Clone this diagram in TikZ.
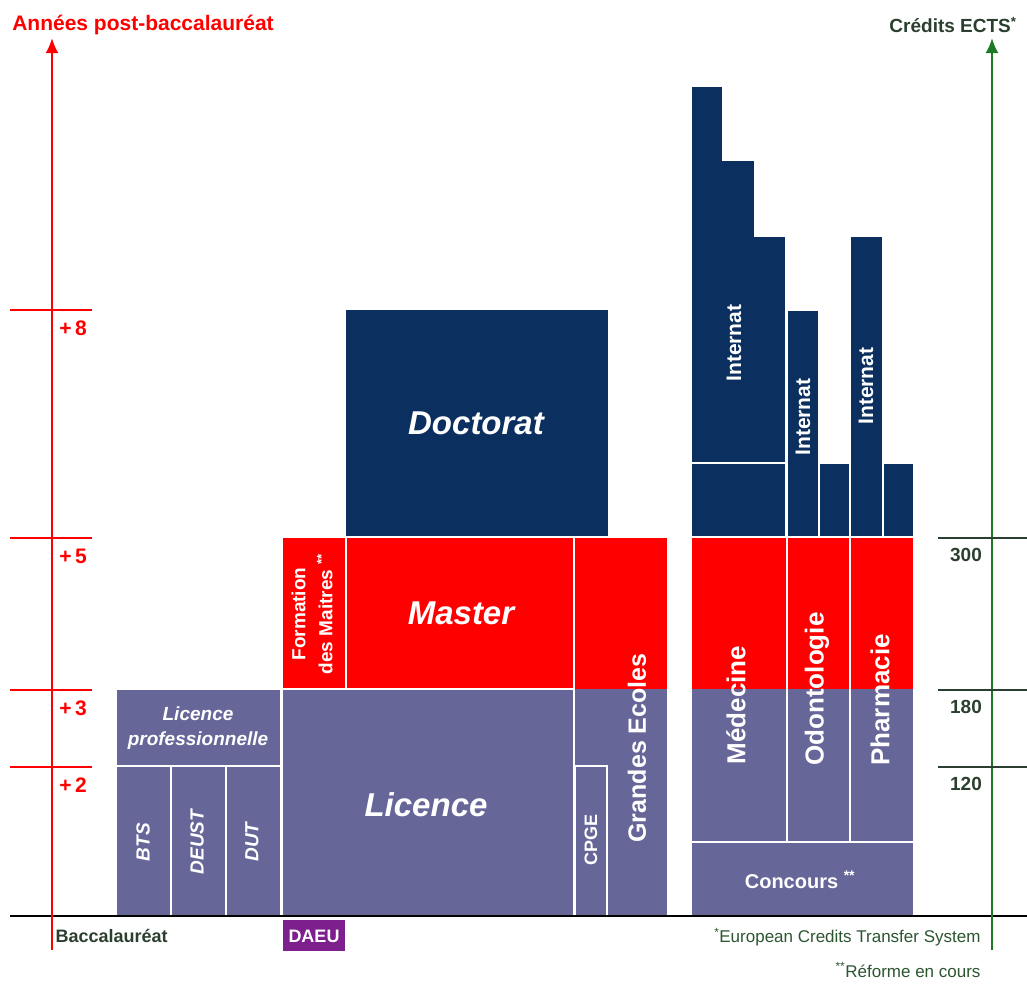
\documentclass[tikz,border=0pt]{standalone}
\usepackage{fontspec}
\setmainfont{Liberation Sans}
\usetikzlibrary{arrows.meta,positioning}
\definecolor{licblue}{HTML}{666699}
\definecolor{docnavy}{HTML}{0B2F5E}
\definecolor{mstred}{HTML}{FF0000}
\definecolor{daeuviolet}{HTML}{7E1F8E}
\definecolor{ectsgreen}{HTML}{1C7A24}
\definecolor{notegreen}{HTML}{2C5530}
\definecolor{darkgreen}{HTML}{2A3F2E}
\tikzset{
  basic/.style  = {draw=white, line width=2pt},
  lic/.style    = {basic, fill=licblue},
  mst/.style    = {basic, fill=mstred},
  doc/.style    = {basic, fill=docnavy},
  axis/.style   = {-{Latex[length=15pt,width=13pt]}, line width=2.5pt},
  big/.style    = {text=white, font=\fontsize{33}{35}\selectfont\bfseries\itshape},
  small/.style  = {text=white, align=center, font=\fontsize{19}{25}\selectfont\bfseries\itshape},
  vert/.style   = {text=white, rotate=90, font=\fontsize{26}{28}\selectfont\bfseries},
  intern/.style = {text=white, rotate=90, font=\fontsize{21}{23}\selectfont\bfseries},
  yrs/.style    = {text=red, font=\fontsize{21}{23}\selectfont\bfseries},
  ects/.style   = {text=darkgreen, font=\fontsize{19}{21}\selectfont\bfseries},
  note/.style   = {text=notegreen, anchor=east, font=\fontsize{17}{19}\selectfont}
}
\begin{document}
\begin{tikzpicture}[x=1pt, y=-1pt]
\useasboundingbox (0,0) rectangle (1027,983);

% end points of the axes
\coordinate (ybot) at (52,950);
\coordinate (ytop) at (52,38);
\coordinate (ebot) at (992,950);
\coordinate (etop) at (992,38);
\coordinate (bl) at (10,916);
\coordinate (br) at (1027,916);

% short courses and licence
\draw[lic] (116,689) rectangle (281,766);
\draw[lic] (116,766) rectangle (171,916);
\draw[lic] (171,766) rectangle (226,916);
\draw[lic] (226,766) rectangle (281,916);
\draw[lic] (282,689) rectangle (574,916);

% master, doctorat
\draw[mst] (282,537) rectangle (346,689);
\draw[mst] (346,537) rectangle (574,689);
\draw[doc] (345,309) rectangle (609,537);

% grandes ecoles
\fill[mstred] (574,537) rectangle (668,689);
\fill[licblue] (574,689) rectangle (668,916);
\draw[white, line width=2pt] (574,537) rectangle (668,916);
\draw[white, line width=1.2pt] (575,766) rectangle (607,916);

% health studies
\fill[mstred] (691,537) rectangle (914,689);
\fill[licblue] (691,689) rectangle (914,842);
\foreach \a/\b in {691/787,787/850,850/914}
  \draw[white, line width=2pt] (\a,537) rectangle (\b,842);
\draw[lic] (691,842) rectangle (914,916);

% internat
\draw[doc] (691,537) |- (723,86) |- (755,160) |- (786,236) -- (786,537) -- cycle;
\draw[white, line width=2pt] (691,463) -- (786,463);
\draw[doc] (787,310) rectangle (819,537);
\draw[doc] (819,463) rectangle (850,537);
\draw[doc] (850,236) rectangle (883,537);
\draw[doc] (883,463) rectangle (914,537);

% DAEU
\fill[daeuviolet] (283,920) rectangle (345,951);

% axes
\draw[line width=2.5pt] (bl) -- (br);
\draw[axis, red] (ybot) -- (ytop);
\draw[axis, ectsgreen] (ebot) -- (etop);

\foreach \y/\t in {310/8,538/5,690/3,767/2} {
  \draw[red, line width=1.5pt] (10,\y) -- (92,\y);
  \node[yrs] (yr\t) at (73,\y+18) {+\,\t};
}
\foreach \y/\t in {538/300,690/180,767/120} {
  \draw[darkgreen, line width=1.5pt] (938,\y) -- (1027,\y);
  \node[ects] (ec\t) at (966,\y+17) {\t};
}

% labels
\node[text=red, font=\fontsize{21}{23}\selectfont\bfseries] (ttl) at (143,25) {Années post-baccalauréat};
\node[text=darkgreen, font=\fontsize{19}{21}\selectfont\bfseries] (ectsttl) at (953,25) {Crédits ECTS\textsuperscript{*}};
\node[text=darkgreen, anchor=west, font=\fontsize{18}{20}\selectfont\bfseries] (bac) at (52,936) {Baccalauréat};
\node[note] (n1) at (984,937) {\textsuperscript{*}European Credits Transfer System};
\node[note] (n2) at (984,970) {\textsuperscript{**}Réforme en cours};

\node[big] (doct) at (476,423) {Doctorat};
\node[big] (mast) at (461,613) {Master};
\node[big] (lice) at (426,805) {Licence};
\node[small] (lpro) at (198,728) {Licence\\professionnelle};
\node[small, rotate=90] (bts) at (143,842) {BTS};
\node[small, rotate=90] (deust) at (197,842) {DEUST};
\node[small, rotate=90] (dut) at (252,842) {DUT};
\node[text=white, rotate=90, align=center, font=\fontsize{19}{27}\selectfont\bfseries] (fdm) at (312,614) {Formation\\des Maitres \textsuperscript{**}};
\node[vert, font=\fontsize{25}{27}\selectfont\bfseries] (ge) at (637,748) {Grandes Ecoles};
\node[text=white, rotate=90, font=\fontsize{18}{20}\selectfont\bfseries] (cpge) at (591,840) {CPGE};
\node[text=white, font=\fontsize{18}{20}\selectfont\bfseries] (daeu) at (314,936) {DAEU};

\node[vert] (med) at (736,705) {Médecine};
\node[vert] (odon) at (817,689) {Odontologie};
\node[vert] (phar) at (880,700) {Pharmacie};
\node[text=white, font=\fontsize{20}{22}\selectfont\bfseries] (conc) at (800,880) {Concours \textsuperscript{**}};

\node[intern] (int1) at (734,343) {Internat};
\node[intern] (int2) at (803,417) {Internat};
\node[intern] (int3) at (866,386) {Internat};
\end{tikzpicture}
\end{document}
